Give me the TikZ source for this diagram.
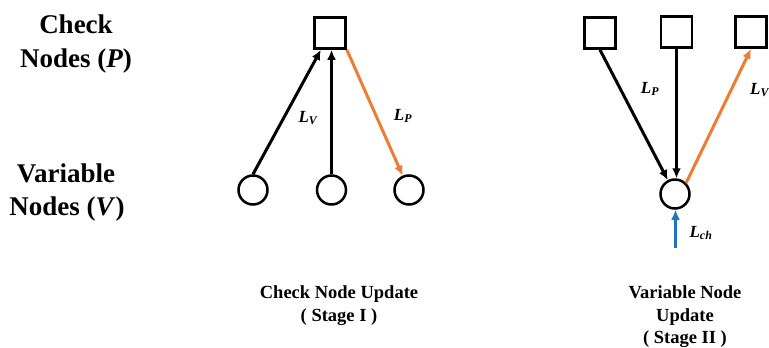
\documentclass[tikz,border=0pt]{standalone}
\usepackage{fontspec}
\setmainfont{Liberation Serif}
\usetikzlibrary{arrows.meta}
\definecolor{msgorange}{HTML}{ED7D31}
\definecolor{msgblue}{HTML}{1F74C0}
\tikzset{
  chk/.style={draw, line width=2.7pt, minimum size=31pt, inner sep=0pt},
  var/.style={draw, circle, line width=2.5pt, minimum size=29pt, inner sep=0pt},
  msg/.style={line width=3pt, -{Latex[length=10pt,width=9pt]}},
  head/.style={font=\fontsize{27}{33}\selectfont\bfseries, anchor=base, inner sep=0pt},
  caption/.style={font=\fontsize{18.5}{22}\selectfont\bfseries, anchor=base, inner sep=0pt},
  lab/.style={font=\fontsize{17}{20}\selectfont\bfseries\itshape, inner sep=0pt}
}
\begin{document}
\begin{tikzpicture}[x=1pt,y=-1pt]
\useasboundingbox (0,0) rectangle (769,348);

% row titles
\node[head] (t1) at (76,33) {Check};
\node[head] (t2) at (76,67) {Nodes (\textit{P})};
\node[head] (t3) at (66,182) {Variable};
\node[head] (t4) at (67,215) {Nodes (\textit{V})};

% stage I: check node update
\node[chk] (c) at (330,33) {};
\node[var] (v1) at (253,190) {};
\node[var] (v2) at (331.5,190) {};
\node[var] (v3) at (409,190) {};
\draw[msg] (v1.north) -- (c);
\draw[msg] (v2.north) -- (v2.north |- c.south);
\draw[msg, msgorange] (c.south east) -- (v3);
\node[lab] (lv1) at (308,118) {L\textsubscript{V}};
\node[lab] (lp1) at (403,116) {L\textsubscript{P}};
\node[caption] (k1) at (339,298) {Check Node Update};
\node[caption] (k2) at (339,321) {( Stage I )};

% stage II: variable node update
\node[chk] (s1) at (600,33) {};
\node[chk] (s2) at (676.5,32) {};
\node[chk] (s3) at (751,32) {};
\node[var] (u) at (675,194) {};
\coordinate (ch) at (675.5,248);
\draw[msg] (s1.south) -- (u);
\draw[msg] (s2.south) -- (s2.south |- u.north);
\draw[msg, msgorange] (u.north east) -- (s3.south);
\draw[msg, msgblue] (ch) -- (ch |- u.south);
\node[lab] (lp2) at (650,89) {L\textsubscript{P}};
\node[lab, anchor=west] (lv2) at (750,90) {L\textsubscript{V}};
\node[lab] (lch) at (701,233) {L\textsubscript{ch}};
\node[caption] (k3) at (685,298) {Variable Node};
\node[caption] (k4) at (685,321) {Update};
\node[caption] (k5) at (685,343) {( Stage II )};
\end{tikzpicture}
\end{document}
